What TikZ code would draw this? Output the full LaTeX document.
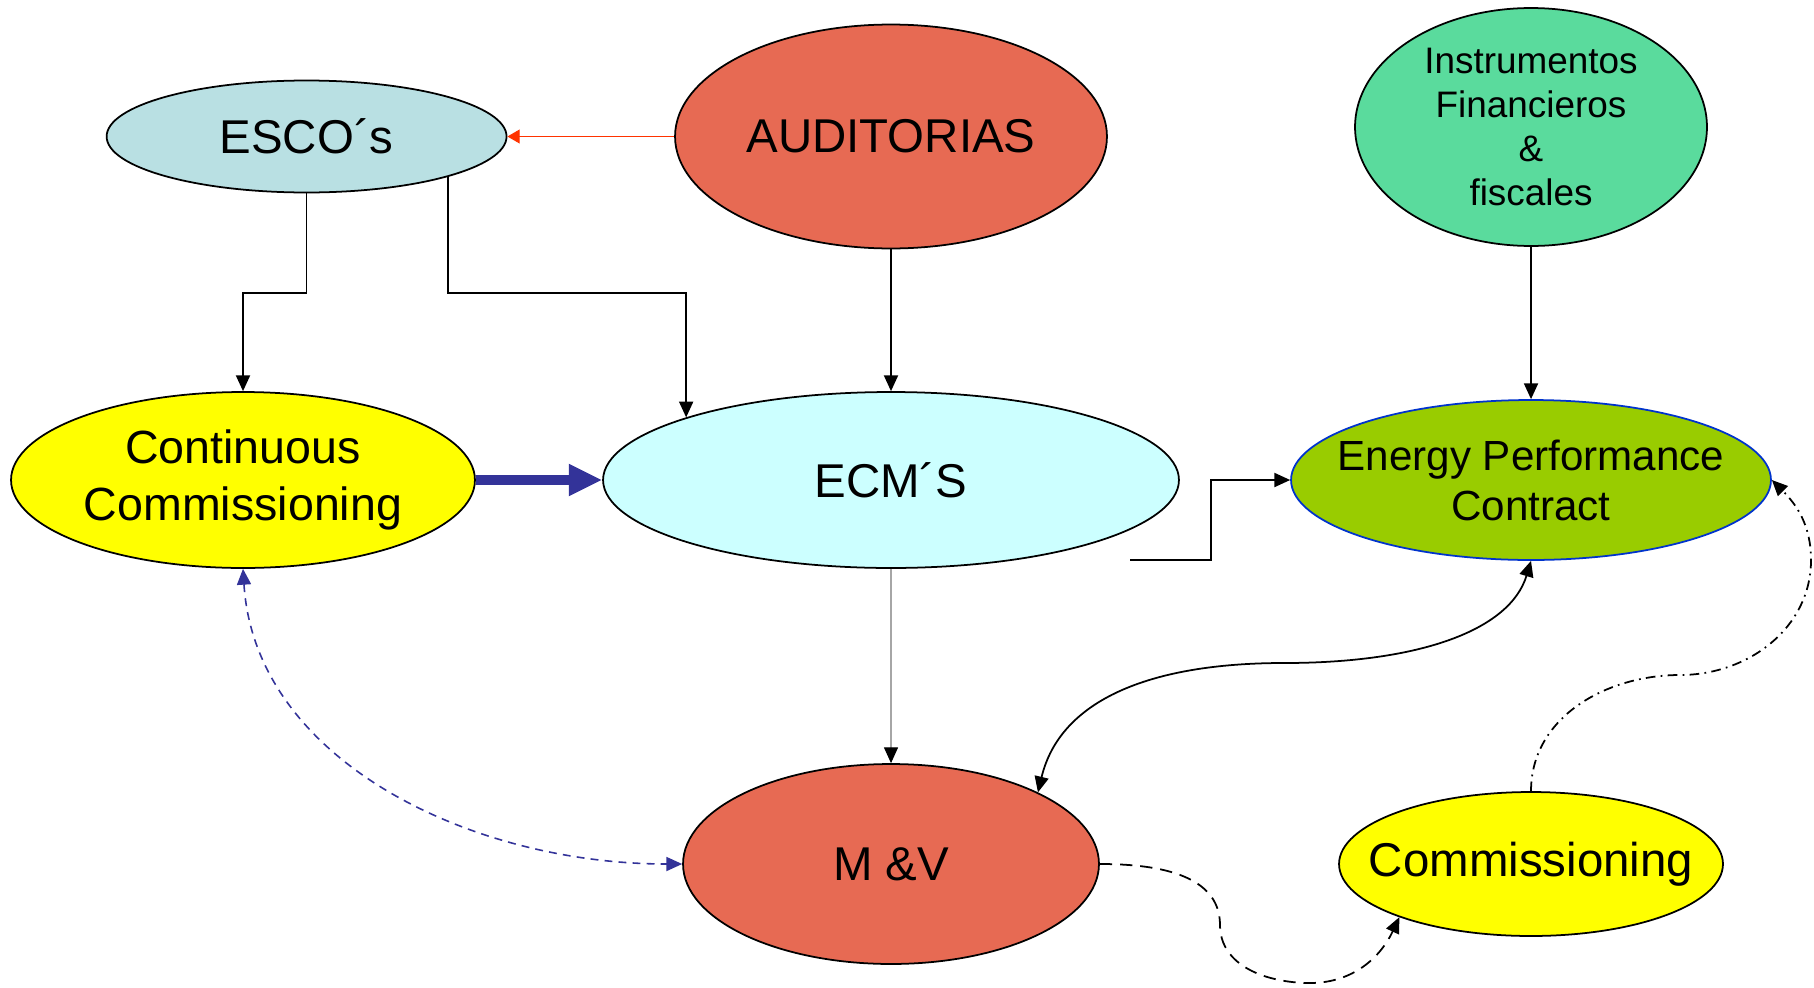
\documentclass[tikz,border=0pt]{standalone}
\usepackage{fontspec}
\setmainfont{Liberation Sans}
\usetikzlibrary{arrows.meta}
\usetikzlibrary{shapes.geometric}
\definecolor{escofill}{HTML}{B9E0E3}
\definecolor{auditfill}{HTML}{E76A53}
\definecolor{finfill}{HTML}{5ADB9D}
\definecolor{ecmfill}{HTML}{CCFFFF}
\definecolor{epcfill}{HTML}{99CC00}
\definecolor{epcline}{HTML}{0033CC}
\definecolor{navy}{HTML}{333399}
\definecolor{redline}{HTML}{FF3300}
\definecolor{lemon}{HTML}{FFFF00}
\tikzset{>={Triangle[length=9pt, width=8pt]}}
\tikzset{bubble/.style = {ellipse, draw, line width = 1pt, inner sep = 0pt, align = center}}

\begin{document}
\begin{tikzpicture}[x = 0.02cm, y = -0.02cm, line width = 1pt]
\useasboundingbox (0,0) rectangle (1814,987);

\node[bubble, fill = escofill, minimum width = 8cm, minimum height = 2.24cm,
	font = \fontsize{27}{32}\selectfont] (esco) at (306.6,136.5) {ESCO´s};
\node[bubble, fill = auditfill, minimum width = 8.64cm, minimum height = 4.48cm,
	font = \fontsize{27}{32}\selectfont] (audit) at (891,136.5) {AUDITORIAS};
\node[bubble, fill = finfill, minimum width = 7.04cm, minimum height = 4.76cm,
	font = \fontsize{21}{25.2}\selectfont] (fin) at (1531,127) {Instrumentos\\Financieros\\\&\\fiscales};
\node[bubble, fill = lemon, minimum width = 9.28cm, minimum height = 3.52cm,
	font = \fontsize{26.5}{32}\selectfont] (cc) at (243,480) {Continuous\\Commissioning};
\node[bubble, fill = ecmfill, minimum width = 11.52cm, minimum height = 3.52cm,
	font = \fontsize{27}{32}\selectfont] (ecm) at (891,480) {ECM´S};
\node[bubble, fill = epcfill, draw = epcline, inner xsep = -0.6cm, minimum width = 9.6cm, minimum height = 3.2cm,
	font = \fontsize{24}{28.5}\selectfont] (epc) at (1531,480) {Energy Performance\\Contract};
\node[bubble, fill = auditfill, minimum width = 8.32cm, minimum height = 4cm,
	font = \fontsize{27}{32}\selectfont] (mv) at (891,864) {M \&V};
\node[bubble, fill = lemon, inner xsep = -0.6cm, minimum width = 7.68cm, minimum height = 2.88cm,
	font = \fontsize{27}{32}\selectfont] (com) at (1531,864) {Commissioning};

\coordinate (knee) at (0,292.7);
\coordinate (ecmtail) at (1130,560);

\draw[-{Triangle[length=7pt, width=8pt]}, redline, line width = 0.6pt] (audit.west) -- (esco.east);
\draw[->] (esco.south) -- (esco.south |- knee) -| (cc.north);
\draw[->] (esco.-16) -- (esco.-16 |- knee) -| (ecm.163);
\draw[->] (audit.south) -- (ecm.north);
\draw[->] (fin.south) -- (epc.north);
\draw[-{Triangle[length=19pt, width=17pt]}, navy, line width = 5.5pt] (cc.east) -- (ecm.west);
\draw[-{Triangle[length=9pt, width=8pt, color=black]}, gray!70, line width = 0.6pt] (ecm.south) -- (mv.north);
\draw[->] (ecmtail) -- ++(81,0) |- (epc.west);

\draw[<->] (mv.26) .. controls (1060,700) and (1150,663) .. (1284,663)
	.. controls (1420,663) and (1510,630) .. (epc.south);
\draw[<->, navy, line width = 0.9pt, dash pattern = on 4.5pt off 3.5pt]
	(cc.south) .. controls (255,760) and (470,864) .. (mv.west);
\draw[->, dash pattern = on 7pt off 4.5pt]
	(mv.east) to[out = 0, in = 90] (1220,925) to[out = -90, in = 180] (1310,983)
	to[out = 0, in = -115] (com.202);
\draw[->, dash pattern = on 5.5pt off 3pt on 1pt off 3pt]
	(com.north) to[out = 90, in = 180] (1680,675) to[out = 0, in = -90] (1811,560)
	to[out = 90, in = -45] (epc.east);

\end{tikzpicture}
\end{document}
